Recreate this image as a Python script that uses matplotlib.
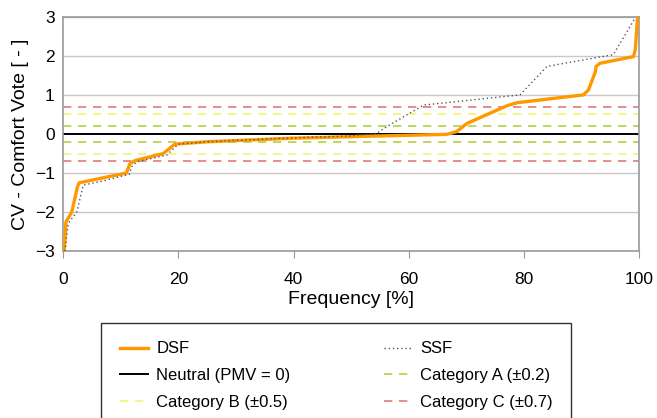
import matplotlib
matplotlib.use('Agg')
import matplotlib.pyplot as plt
import numpy as np

plt.rcParams['font.family'] = ['Liberation Sans', 'DejaVu Sans']

# cumulative distribution of comfort votes
dsf_freq = [0.2, 0.5, 1.5, 2.5, 2.8, 6.0, 11.0, 11.6, 12.5, 17.4, 19.4, 25.0,
            39.4, 55.0, 66.6, 68.3, 70.1, 77.0, 78.8, 90.3, 91.2, 92.4, 92.5,
            93.2, 99.0, 99.3, 99.7]
dsf_cv = [-3.0, -2.25, -2.0, -1.35, -1.25, -1.15, -1.0, -0.76, -0.68, -0.5,
          -0.26, -0.2, -0.11, -0.05, -0.01, 0.06, 0.27, 0.72, 0.80, 1.0, 1.13,
          1.6, 1.73, 1.81, 1.98, 2.15, 2.97]

ssf_freq = [0.3, 0.9, 2.4, 3.5, 7.0, 11.5, 11.9, 12.8, 18.0, 20.0, 25.0, 40.0,
            50.0, 54.5, 56.2, 62.6, 79.3, 84.0, 95.5, 99.3]
ssf_cv = [-3.0, -2.29, -1.99, -1.31, -1.2, -1.03, -0.84, -0.71, -0.54, -0.26,
          -0.2, -0.1, -0.05, 0.02, 0.19, 0.74, 1.0, 1.73, 2.03, 2.97]

cat_a = 0.2
cat_b = 0.5
cat_c = 0.7

fig = plt.figure(figsize=(6.57, 4.18), dpi=100)
ax = fig.add_axes([0.096, 0.399, 0.877, 0.561])

for y in [-3, -2, -1, 1, 2, 3]:
    ax.axhline(y, color='#c8c8c8', lw=1.0, zorder=0)

ax.axhline(0, color='black', lw=1.4, zorder=2, label='Neutral (PMV = 0)')
ax.axhline(cat_a, color='#b8d040', lw=1.2, ls=(0, (5, 4)), zorder=1, label='Category A (\u00b10.2)')
ax.axhline(-cat_a, color='#b8d040', lw=1.2, ls=(0, (5, 4)), zorder=1)
ax.axhline(cat_b, color='#f6f27a', lw=1.2, ls=(0, (5, 4)), zorder=1, label='Category B (\u00b10.5)')
ax.axhline(-cat_b, color='#f6f27a', lw=1.2, ls=(0, (5, 4)), zorder=1)
ax.axhline(cat_c, color='#e07a7a', lw=1.2, ls=(0, (5, 4)), zorder=1, label='Category C (\u00b10.7)')
ax.axhline(-cat_c, color='#e07a7a', lw=1.2, ls=(0, (5, 4)), zorder=1)

ax.plot(dsf_freq, dsf_cv, color='#ff9900', lw=2.4, zorder=3, label='DSF',
        solid_joinstyle='round')
ax.plot(ssf_freq, ssf_cv, color='#555555', lw=1.0, ls=(0, (1, 2)), zorder=4, label='SSF')

ax.set_xlim(0, 100)
ax.set_ylim(-3, 3)
ax.set_xticks([0, 20, 40, 60, 80, 100])
ax.set_yticks([-3, -2, -1, 0, 1, 2, 3])
ax.tick_params(axis='x', direction='out', length=5, color='#999999', labelsize=12.5, pad=10)
ax.tick_params(axis='y', length=0, labelsize=12.5, pad=6)
for s in ax.spines.values():
    s.set_color('#999999')
    s.set_linewidth(1.2)

ax.set_xlabel('Frequency [%]', fontsize=14, labelpad=3)
ax.set_ylabel('CV - Comfort Vote [ - ]', fontsize=14, labelpad=4)

h, l = ax.get_legend_handles_labels()
hm = dict(zip(l, h))
# two columns filled row by row
col1 = ['DSF', 'Neutral (PMV = 0)', 'Category B (\u00b10.5)']
col2 = ['SSF', 'Category A (\u00b10.2)', 'Category C (\u00b10.7)']
leg = fig.legend([hm[k] for k in col1 + col2], col1 + col2, ncol=2,
                 loc='upper left', bbox_to_anchor=(0.154, 0.227),
                 borderaxespad=0, fontsize=12, frameon=True, fancybox=False,
                 edgecolor='black', columnspacing=5.6, handlelength=1.7,
                 handletextpad=0.5, labelspacing=0.7, borderpad=1.1)
leg.get_frame().set_linewidth(1.0)

fig.savefig('out.png', dpi=100)
